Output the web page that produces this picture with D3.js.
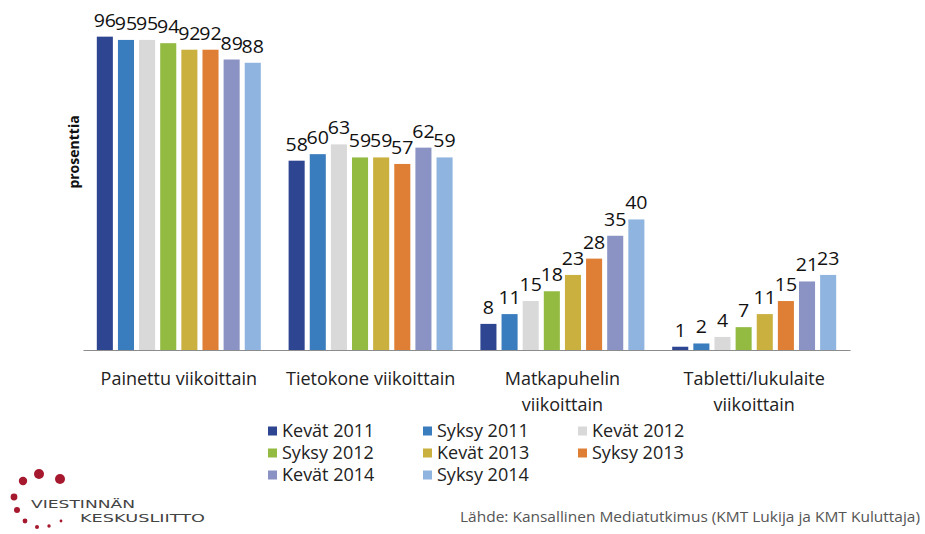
<!DOCTYPE html>
<html><head><meta charset="utf-8">
<script src="https://cdn.jsdelivr.net/npm/d3@7"></script>
<style>body{margin:0;background:#fff}svg{display:block}</style>
</head><body>
<svg id="c" width="925" height="534"></svg>
<script>
const categories = [["Painettu viikoittain"], ["Tietokone viikoittain"], ["Matkapuhelin","viikoittain"], ["Tabletti/lukulaite","viikoittain"]];
const seriesNames = ["Kevät 2011","Syksy 2011","Kevät 2012","Syksy 2012","Kevät 2013","Syksy 2013","Kevät 2014","Syksy 2014"];
const seriesColors = ["#2E4591","#3A7DBE","#D9D9D9","#93BB42","#C9B03F","#DF7F36","#8A93C4","#8EB4DF"];
const kevat2011 = [96, 58, 8, 1];
const syksy2011 = [95, 60, 11, 2];
const kevat2012 = [95, 63, 15, 4];
const syksy2012 = [94, 59, 18, 7];
const kevat2013 = [92, 59, 23, 11];
const syksy2013 = [92, 57, 28, 15];
const kevat2014 = [89, 62, 35, 21];
const syksy2014 = [88, 59, 40, 23];
const seriesValues = [kevat2011, syksy2011, kevat2012, syksy2012, kevat2013, syksy2013, kevat2014, syksy2014];
const yLabel = "prosenttia";
const sourceText = "Lähde: Kansallinen Mediatutkimus (KMT Lukija ja KMT Kuluttaja)";

const svg = d3.select("#c");
const font = "'Open Sans', sans-serif";
const x0 = d3.scaleBand().domain(d3.range(categories.length)).range([83, 850]).paddingInner(0.145).paddingOuter(0.072);
const x1 = d3.scaleBand().domain(d3.range(seriesNames.length)).range([0, x0.bandwidth()]).paddingInner(0.24).paddingOuter(0);
const y = d3.scaleLinear().domain([0, 100]).range([350, 23.6]);

const g = svg.append("g");
categories.forEach((c, ci) => {
  seriesValues.forEach((vals, si) => {
    const v = vals[ci];
    const bx = x0(ci) + x1(si);
    g.append("rect").attr("x", bx).attr("y", y(v)).attr("width", x1.bandwidth()).attr("height", y(0) - y(v)).attr("fill", seriesColors[si]);
  });
});
categories.forEach((c, ci) => {
  seriesValues.forEach((vals, si) => {
    const v = vals[ci];
    const cx = x0(ci) + x1(si) + x1.bandwidth()/2;
    g.append("text").attr("transform", `translate(${cx},${y(v) - 10}) scale(1.12,1)`).attr("text-anchor","middle")
      .attr("font-family", font).attr("font-size", 17.5).attr("fill","#111").text(v);
  });
});
// axis
const xAxis = d3.axisBottom(x0).tickSize(0).tickFormat("");
const ax = svg.append("g").attr("transform","translate(0,350)").call(xAxis);
ax.select(".domain").attr("stroke","#8c8c8c").attr("stroke-width",1.2);
categories.forEach((c, ci) => {
  const t = svg.append("text").attr("x", x0(ci) + x0.bandwidth()/2).attr("y", 385).attr("text-anchor","middle")
    .attr("font-family", font).attr("font-size", 18).attr("fill","#222");
  c.forEach((line, li) => t.append("tspan").attr("x", x0(ci) + x0.bandwidth()/2).attr("dy", li ? 26 : 0).text(line));
});
svg.append("text").attr("transform","translate(79,152) rotate(-90)").attr("text-anchor","middle")
  .attr("font-family","'Open Sans', sans-serif").attr("font-weight","bold").attr("font-size",14).attr("fill","#111").text(yLabel);

// legend
const legText = [282, 437, 592];
seriesNames.forEach((n, i) => {
  const col = i % 3, row = Math.floor(i / 3);
  const tx = legText[col], ly = 431 + row * 22;
  svg.append("rect").attr("x", tx - 14).attr("y", ly - 4.5).attr("width", 9).attr("height", 9).attr("fill", seriesColors[i]);
  svg.append("text").attr("x", tx).attr("y", ly + 6).attr("font-family", font).attr("font-size", 18).attr("fill","#222").text(n);
});

// source
svg.append("text").attr("x", 460).attr("y", 522).attr("font-family","'Open Sans', sans-serif")
  .attr("font-size", 14).attr("textLength", 460).attr("lengthAdjust","spacingAndGlyphs").attr("fill","#555").text(sourceText);

// logo
const dots = [[23,481,4.2],[39,474,5],[60,479,5],[14,497,3.4],[17,510,3],[25,521,2.4],[37,527,2],[49,526,1.7],[61,521,1.4]];
svg.selectAll("circle.logo").data(dots).enter().append("circle").attr("cx", d=>d[0]).attr("cy", d=>d[1]).attr("r", d=>d[2]).attr("fill","#A5182E");
svg.append("text").attr("x", 31).attr("y", 508).attr("font-family","'DejaVu Sans', sans-serif").attr("font-size", 10.5)
  .attr("textLength", 104).attr("lengthAdjust","spacingAndGlyphs").attr("fill","#444").text("VIESTINNÄN");
svg.append("text").attr("x", 80).attr("y", 522).attr("font-family","'DejaVu Sans', sans-serif").attr("font-size", 10.5)
  .attr("textLength", 125).attr("lengthAdjust","spacingAndGlyphs").attr("fill","#444").text("KESKUSLIITTO");
</script>
</body></html>
